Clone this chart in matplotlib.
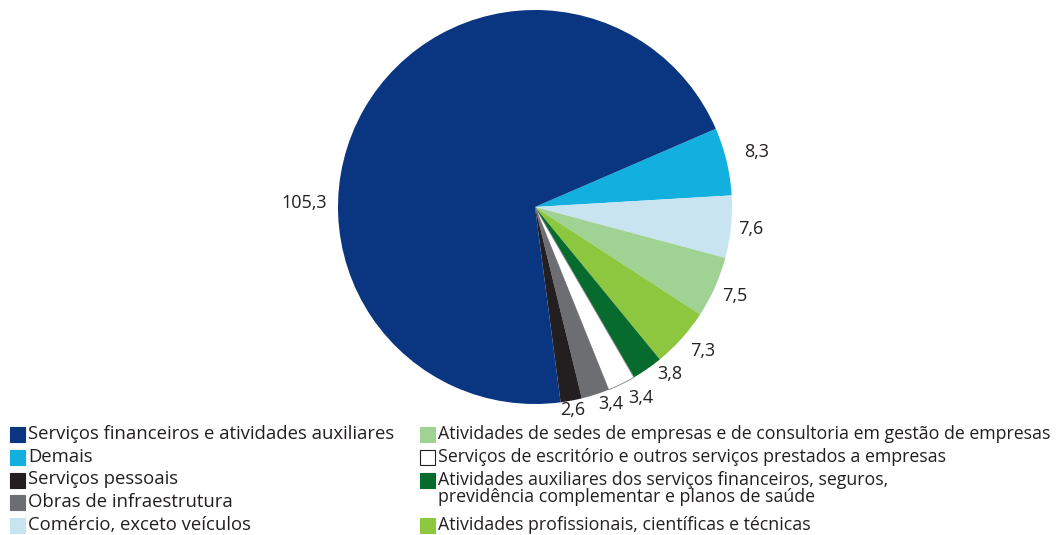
import matplotlib
matplotlib.use('Agg')
import matplotlib.pyplot as plt
from matplotlib.patches import Rectangle
import numpy as np

plt.rcParams['font.family'] = ['Open Sans', 'DejaVu Sans']

# slices in drawing order (clockwise from the "Demais" wedge)
setores = ['Demais',
           'Comércio, exceto veículos',
           'Atividades de sedes de empresas e de consultoria em gestão de empresas',
           'Atividades profissionais, científicas e técnicas',
           'Atividades auxiliares dos serviços financeiros, seguros,\nprevidência complementar e planos de saúde',
           'Serviços de escritório e outros serviços prestados a empresas',
           'Obras de infraestrutura',
           'Serviços pessoais',
           'Serviços financeiros e atividades auxiliares']
valores = [8.3, 7.6, 7.5, 7.3, 3.8, 3.4, 3.4, 2.6, 105.3]
rotulos = ['8,3', '7,6', '7,5', '7,3', '3,8', '3,4', '3,4', '2,6', '105,3']
cores = ['#12b0df', '#c9e4f1', '#9fd293', '#8dc63f', '#076b2e',
         '#ffffff', '#6d6e71', '#231f20', '#0a3580']

# legend: two columns, indices into setores
col_esq = [8, 0, 7, 6, 1]
col_dir = [2, 5, 4, 3]

# label placement (angle in degrees, radius factor)
pos_rotulos = [(14, 1.16), (-5.8, 1.10), (-24, 1.11), (-40.6, 1.12),
               (-51, 1.09), (-61, 1.11), (-69, 1.07), (-79.4, 1.05), (179, 1.17)]

TXT = '#231f20'
W, H = 1063, 535
fig = plt.figure(figsize=(W / 100, H / 100), dpi=100)
cx, cy, r = 535, 207, 197
ax = fig.add_axes([(cx - r) / W, (H - cy - r) / H, 2 * r / W, 2 * r / H])

wedges, _ = ax.pie(valores, colors=cores, startangle=23.4, counterclock=False,
                   radius=1, wedgeprops=dict(linewidth=0))
wedges[5].set_edgecolor('#808080')
wedges[5].set_linewidth(0.6)
ax.set_xlim(-1, 1)
ax.set_ylim(-1, 1)
ax.set_aspect('equal')
ax.axis('off')

for txt, (ang, rf) in zip(rotulos, pos_rotulos):
    a = np.deg2rad(ang)
    ax.text(rf * np.cos(a), rf * np.sin(a), txt, ha='center', va='center',
            fontsize=13, color=TXT, clip_on=False)


# legend drawn by hand (pixel layout)
def item(x, top, i, fs):
    ec = TXT if cores[i] == '#ffffff' else cores[i]
    fig.add_artist(Rectangle((x / W, 1 - (top + 15) / H), 15 / W, 15 / H,
                             transform=fig.transFigure, facecolor=cores[i],
                             edgecolor=ec, linewidth=0.8))
    for n, linha in enumerate(setores[i].split('\n')):
        fig.text((x + 18) / W, 1 - (top + 12 + 16.5 * n) / H, linha, fontsize=fs,
                 color=TXT, va='baseline', ha='left')


for k, i in enumerate(col_esq):
    item(10, 427 + 22.75 * k, i, 13.3)
for top, i in zip([427, 450, 473, 518], col_dir):
    item(420, top, i, 12.75)

fig.savefig('out.png', dpi=100)
